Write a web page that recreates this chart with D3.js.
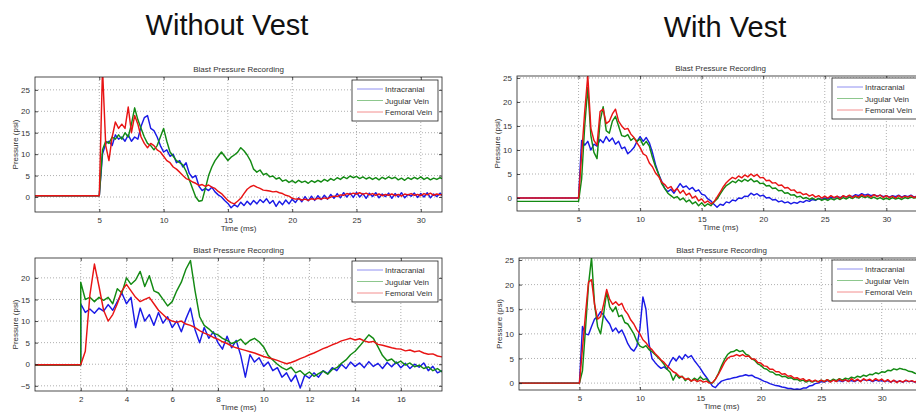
<!DOCTYPE html>
<html>
<head>
<meta charset="utf-8">
<script src="https://cdn.jsdelivr.net/npm/d3@7"></script>
<style>
body { margin: 0; background: #fff; }
svg text { font-family: "Liberation Sans", Arial, sans-serif; }
</style>
</head>
<body>
<svg id="chart" width="916" height="415"></svg>
<script>
// ---- data (pressure in psi) ----
const seriesNames = ["Intracranial", "Jugular Vein", "Femoral Vein"];
const seriesColors = ["#1a1ae6", "#138a13", "#e81414"];

// Without vest, upper: samples every 0.25 ms from 5 ms
const p1Start = 5, p1Step = 0.25, p1Base = [0.3, 0.3, 0.3];
const p1Intracranial = [
  0.3, 10, 12.5, 13, 12, 14.5, 13.5, 14, 13, 14.5,
  13, 14, 13.5, 16.5, 18.5, 19, 16, 15.5, 14, 12,
  10.5, 11, 9.5, 10, 8, 8.5, 7, 8, 5.5, 4.5,
  5, 2.5, 1.5, 2, 1.5, 2.3, 1.2, 0.5, 0, -0.8,
  -1.5, -2.5, -1.8, -2.3, -1.2, -2, -1, -1.8, -0.8, -1.6,
  -0.6, -1.3, -0.4, -1.5, -0.8, -2.2, -1, -1.8, -0.7, -1.6,
  -0.5, -1.3, -0.2, -1.1, 0.1, -0.9, 0.2, -0.8, 0.3, -0.6,
  0.4, -0.5, 0.6, -0.3, 0.8, -0.2, 1, 0, 0.9, -0.1,
  1.1, 0, 0.8, -0.3, 0.9, 0.1, 1, -0.2, 0.7, 0.1,
  0.9, -0.3, 0.8, 0, 1, -0.2, 0.6, 0.2, 0.9, -0.1,
  0.8, 0, 1, -0.2, 0.7, 0.1, 0.9, 0
];
const p1Jugular = [
  0.3, 11, 13, 12.5, 14, 13.5, 14.5, 13.5, 15, 14,
  17, 20.8, 18, 16, 14, 12.5, 12, 11, 12, 14,
  16, 13, 10.5, 9.5, 8.5, 8, 7.5, 6, 4, 2,
  0, -1, -0.8, 2, 5, 7, 8.5, 9.5, 10.5, 9.5,
  8.5, 9.3, 9.8, 10.4, 11.5, 10.8, 9.8, 8.5, 6.5, 5.8,
  6.3, 5.2, 5.5, 4.7, 4.9, 4.2, 4.5, 3.7, 4, 3.4,
  3.8, 3.3, 3.9, 3.4, 3.7, 3.2, 3.8, 3.4, 3.9, 3.5,
  4.1, 3.7, 4.3, 3.9, 4.5, 4.1, 4.7, 4.3, 4.9, 4.5,
  4.8, 4.3, 4.7, 4.2, 4.6, 4.1, 4.5, 4, 4.6, 4.2,
  4.7, 4.3, 4.6, 4, 4.4, 3.9, 4.5, 4.1, 4.6, 4.2,
  4.7, 4.1, 4.5, 4, 4.4, 4.1, 4.5, 4.2
];
const p1Femoral = [
  0.3, 30, 12, 8.5, 14, 17.5, 16, 17, 16, 21,
  15, 19, 17, 14, 12.5, 11.5, 12.5, 12, 11, 10.5,
  9.5, 8.5, 8, 7, 6.5, 5.8, 5, 4.3, 4, 3.5,
  3.2, 2.7, 2.9, 2.5, 2.8, 2.3, 2, 1.3, 0.8, 0,
  -0.8, -1.3, -1.6, -1, -0.3, 0.8, 1.8, 2.4, 2.7, 2.3,
  2, 1.6, 1.5, 1.4, 1.2, 1.3, 1, 0.8, 0.4, 0.2,
  -0.3, -0.5, -0.4, -0.7, -0.5, -0.8, -0.4, -0.6, -0.3, -0.5,
  -0.2, -0.4, 0, 0.2, 0.1, 0.5, 0.4, 0.8, 0.6, 0.9,
  0.7, 1, 0.6, 0.9, 0.5, 0.8, 0.4, 0.7, 0.3, 0.6,
  0.4, 0.7, 0.3, 0.6, 0.2, 0.7, 0.5, 0.8, 0.4, 0.6,
  0.3, 0.8, 0.5, 0.9, 0.4, 0.7, 0.5, 0.6
];

// Without vest, lower: samples every 0.2 ms from 2 ms
const p2Start = 2, p2Step = 0.2, p2Base = [-0.2, -0.2, -0.1];
const p2Intracranial = [
  14, 12, 12.8, 11.8, 13, 12.3, 13.8, 12.5, 14.5, 16.5,
  14, 15.5, 8.5, 13, 10, 11.5, 9, 12, 9.5, 11,
  8.5, 10, 7.5, 10.5, 13, 8, 5, 8.5, 6, 7.5,
  5, 3.5, 6.5, 3.8, 5.5, 2, -3, 2.2, 0.5, 1.5,
  -0.5, 0.5, -1.5, -0.8, -3, -2, -4, -2.5, -5.5, -2.5,
  -3.2, -2, -3, -1.5, -2.2, -0.8, -1.5, 0, -1, 0.5,
  -0.5, 0.3, -0.8, 0.6, -0.5, 0.2, -1, 0.4, -0.6, 0.5,
  -0.8, 0.2, -1, 0, -0.7, 0.3, -1.5, -0.5, -2, -1.5
];
const p2Jugular = [
  19, 15, 15.5, 14.5, 15.5, 14.8, 15.5, 14, 17.5, 16.5,
  20, 18.5, 19.5, 21.5, 18, 20.5, 17, 16.5, 15, 13.5,
  14.5, 17, 19, 22, 24, 17, 11, 9, 8.2, 7.2,
  6.8, 6, 5.5, 4.8, 5.2, 5.8, 4.6, 5.5, 6, 5.2,
  4, 2, 1, 0, -0.8, -1.3, -0.7, -2, -1.5, -2.5,
  -1.8, -2.8, -2.2, -1.6, -2.3, -1.2, -0.8, 0.2, 1, 2.2,
  3, 4.2, 5.5, 6.8, 6, 4, 2, 0.8, 1.2, 0.2,
  0.7, -0.2, 0.3, -0.6, -0.2, -1, -0.6, -1.5, -1, -1.8
];
const p2Femoral = [
  -0.1, 3, 16, 23.2, 18, 12.5, 10, 11.5, 14, 17,
  18.5, 17, 15.5, 14.5, 15, 15.5, 14, 12.5, 11.5, 10.5,
  10, 9.7, 10, 9.3, 9, 8.5, 7.8, 7.2, 6.8, 6.2,
  5.8, 5.2, 4.8, 4.2, 3.8, 3.5, 3.2, 2.9, 2.6, 2.2,
  1.8, 1.5, 1.2, 0.9, 0.5, 0.1, 0.4, 0.8, 1.3, 1.7,
  2.2, 2.6, 3.1, 3.6, 4, 4.5, 4.9, 5.4, 5.7, 6,
  5.6, 5.9, 5.4, 5.1, 5.3, 4.6, 4.4, 4.1, 3.8, 3.6,
  3.5, 3.1, 3.3, 2.9, 3.1, 2.6, 2.3, 2.4, 1.9, 1.7
];

// With vest, upper: samples every 0.25 ms from 5 ms
const p3Start = 5, p3Step = 0.25, p3Base = [0, -0.7, 0];
const p3Intracranial = [
  0, 12, 11, 11.8, 10, 11.2, 10.8, 12.2, 11.5, 12.8,
  11.8, 12.5, 11.2, 11.8, 10.3, 10.6, 9.2, 9.8, 10.5, 11.8,
  12.8, 11.8, 12.6, 11.5, 9.5, 7, 5, 3.5, 2, 1.3,
  1.8, 1, 2, 3, 2.2, 2.5, 1.8, 2.2, 1.4, 1.7,
  0.8, 0.6, -0.2, -0.6, -1.3, -1.9, -1.3, -1.5, -0.8, -1,
  -0.4, -0.6, 0, -0.1, 0.4, 0.3, 1, 0.6, 0.9, 0.4,
  0.6, 0, 0.1, -0.4, -0.3, -0.8, -0.6, -1, -0.8, -1.2,
  -0.9, -1.1, -0.7, -0.9, -0.5, -0.7, -0.3, -0.5, -0.1, -0.3,
  0, -0.2, 0.2, 0, 0.3, 0.1, 0.4, 0.2, 0.5, 0.3,
  0.7, 0.5, 0.9, 0.6, 0.8, 0.5, 0.7, 0.4, 0.6, 0.3,
  0.5, 0.2, 0.5, 0.3, 0.6, 0.2, 0.5, 0.3, 0.6, 0.2,
  0.4, 0.3, 0.5
];
const p3Jugular = [
  -0.7, 4, 15, 23, 13, 9.5, 8.2, 16, 19, 14,
  13.5, 16, 17, 15, 13, 12.8, 13.2, 12, 12.5, 11.8,
  12.3, 11, 11.8, 10.8, 8.5, 6.5, 5, 3, 2, 1,
  0.5, 0, 0.3, -0.4, 0, -0.8, -0.4, -1.2, -0.8, -1.6,
  -1, -1.7, -1.2, -1.6, -0.8, -0.2, 0.8, 1.8, 2.6, 3,
  3.5, 3.2, 3.8, 3.4, 3.9, 3.5, 4, 3.4, 3.6, 3,
  3.1, 2.5, 2.6, 2, 2.1, 1.5, 1.6, 1, 1.1, 0.6,
  0.7, 0.2, 0.4, -0.1, 0.1, -0.3, 0, -0.4, -0.1, -0.5,
  -0.2, -0.5, -0.1, -0.4, 0, -0.3, 0.1, -0.2, 0.2, -0.1,
  0.3, 0, 0.4, 0.1, 0.3, -0.1, 0.2, -0.2, 0.1, -0.3,
  0, -0.3, 0.1, -0.2, 0, -0.3, 0.1, -0.1, 0.2, 0,
  0.1, -0.1, 0
];
const p3Femoral = [
  0, 9, 18, 25.5, 14.5, 12, 11, 18, 18.5, 15.5,
  16, 17.5, 18.5, 16, 15, 14.3, 14.5, 13.3, 12.6, 11.5,
  10.5, 9.2, 8.8, 7.3, 6.5, 5.2, 4.5, 3.3, 2.8, 2,
  2.4, 1.4, 2, 1, 1.6, 0.6, 1, 0, 0.4, -0.6,
  -0.2, -1, -0.6, -1.2, -0.8, 0.2, 1.2, 2.3, 3.2, 3.8,
  4.3, 4, 4.6, 4.2, 4.8, 4.4, 5, 4.5, 4.9, 4.2,
  4.3, 3.6, 3.7, 3.1, 3.2, 2.6, 2.7, 2.1, 2.2, 1.6,
  1.7, 1.1, 1.2, 0.7, 0.9, 0.4, 0.7, 0.2, 0.5, 0,
  0.4, 0, 0.5, 0.1, 0.4, -0.1, 0.5, 0.2, 0.6, 0.1,
  0.5, 0.2, 0.7, 0.3, 0.6, 0.2, 0.7, 0.3, 0.6, 0.1,
  0.5, 0.1, 0.4, 0, 0.5, 0.1, 0.4, 0.2, 0.5, 0.1,
  0.4, 0.2, 0.3
];

// With vest, lower: samples every 0.25 ms from 5 ms
const p4Start = 5, p4Step = 0.25, p4Base = [0, 0, 0];
const p4Intracranial = [
  0, 11.5, 10, 9.8, 11.5, 13, 13.5, 14.5, 13.8, 12.8,
  12, 10.5, 11.2, 10.2, 10.8, 9.5, 8, 7, 6.5, 7.5,
  11, 17.5, 15, 8, 5, 4.2, 3.5, 3, 3.3, 2.8,
  4.2, 5.2, 4.5, 5.5, 4.8, 5.8, 5.2, 5.6, 4.6, 3.8,
  3, 2, 1.2, 0.3, -0.6, -0.9, -0.2, 0.4, 0.6, 0.8,
  0.9, 1.1, 1.2, 1.4, 1.5, 1.7, 1.5, 1.6, 1.2, 1,
  0.7, 0.4, 0.2, -0.1, -0.3, -0.5, -0.6, -0.8, -0.9, -1.1,
  -1.1, -1.3, -1.2, -1.3, -1, -1, -0.6, -0.5, -0.1, 0,
  0.3, 0.2, 0.5, 0.3, 0.6, 0.4, 0.5, 0.3, 0.6, 0.4,
  0.5, 0.3, 0.6, 0.4, 0.7, 0.5, 0.6, 0.3, 0.6, 0.4,
  0.5, 0.3, 0.5, 0.2, 0.5, 0.3, 0.4, 0.2, 0.5, 0.3,
  0.4, 0.2, 0.4
];
const p4Jugular = [
  0, 2.5, 11, 20, 25.5, 16, 11.5, 10, 14, 18.5,
  15.5, 14.5, 15.5, 13.5, 13.8, 12.3, 12, 11, 10, 8.5,
  7.5, 7.2, 7.6, 6.8, 6.4, 5.8, 5.2, 4.6, 3.8, 2.8,
  2.2, 0.6, 1.8, 1, 1.4, 0.5, 1, 0.4, 1, 0.6,
  1.3, 0.7, 0.9, 0.2, 0, 0.8, 2, 3.5, 4.8, 5.8,
  6.3, 6.4, 6.8, 6.4, 6.6, 5.9, 5.6, 4.9, 4.6, 3.9,
  3.6, 3, 2.8, 2.3, 2.2, 1.7, 1.7, 1.3, 1.4, 1,
  1.1, 0.7, 0.8, 0.4, 0.6, 0.2, 0.5, 0.2, 0.5, 0.3,
  0.6, 0.3, 0.7, 0.4, 0.8, 0.5, 0.9, 0.6, 1, 0.8,
  1.2, 1, 1.4, 1.2, 1.6, 1.4, 1.8, 1.7, 2.1, 1.9,
  2.3, 2.2, 2.6, 2.5, 2.9, 2.7, 3, 2.8, 2.7, 2.4,
  2.3, 2, 1.8
];
const p4Femoral = [
  0, 7, 14, 20.5, 21, 16, 13, 13.5, 16, 19,
  17, 16, 16.5, 15.8, 16.2, 14.8, 14, 12.8, 12, 10.8,
  10, 8.8, 8.2, 7.3, 6.8, 6, 5.4, 4.7, 4.2, 3.5,
  2.9, 2.3, 2, 1.4, 1.3, 0.8, 0.9, 0.4, 0.7, 0.3,
  0.6, 0.2, 0.4, 0, 0.1, 0.8, 1.8, 3, 4.2, 5,
  5.4, 5.5, 5.8, 5.5, 5.8, 5.4, 5.5, 4.9, 4.9, 4.2,
  4.1, 3.5, 3.4, 2.8, 2.8, 2.3, 2.3, 1.8, 1.9, 1.4,
  1.5, 1, 1.1, 0.7, 0.9, 0.4, 0.7, 0.3, 0.6, 0.2,
  0.6, 0.3, 0.7, 0.2, 0.6, 0.3, 0.8, 0.4, 0.7, 0.3,
  0.9, 0.4, 0.8, 0.3, 0.9, 0.5, 0.8, 0.4, 0.9, 0.5,
  0.8, 0.3, 0.7, 0.2, 0.6, 0.1, 0.5, 0.2, 0.6, 0.3,
  0.5, 0.2, 0.6
];

// tick values
const ticksTime32 = [5, 10, 15, 20, 25, 30];
const ticksTime18 = [2, 4, 6, 8, 10, 12, 14, 16];
const ticksP25 = [0, 5, 10, 15, 20, 25];
const ticksP20 = [-5, 0, 5, 10, 15, 20];

// ---- layout of the four axes ----
const panels = [
  {id: "a", left: 35, right: 442, top: 77, bottom: 212, xMax: 31.65, yDomain: [-3.5, 28],
   xTicks: ticksTime32, yTicks: ticksP25, start: p1Start, step: p1Step, base: p1Base,
   series: [p1Intracranial, p1Jugular, p1Femoral], legend: [352, 80]},
  {id: "b", left: 35, right: 442, top: 258, bottom: 391, xMax: 17.8, yDomain: [-6.2, 24.6],
   xTicks: ticksTime18, yTicks: ticksP20, start: p2Start, step: p2Step, base: p2Base,
   series: [p2Intracranial, p2Jugular, p2Femoral], legend: [352, 261]},
  {id: "c", left: 517, right: 924, top: 76, bottom: 211, xMax: 33.06, yDomain: [-2.7, 25.4],
   xTicks: ticksTime32, yTicks: ticksP25, start: p3Start, step: p3Step, base: p3Base,
   series: [p3Intracranial, p3Jugular, p3Femoral], legend: [832, 78]},
  {id: "d", left: 519, right: 924, top: 258, bottom: 390, xMax: 33.5, yDomain: [-1.4, 25.4],
   xTicks: ticksTime32, yTicks: ticksP25, start: p4Start, step: p4Step, base: p4Base,
   series: [p4Intracranial, p4Jugular, p4Femoral], legend: [832, 260]}
];

const svg = d3.select("#chart");
svg.append("rect").attr("width", 916).attr("height", 415).attr("fill", "#fff");

svg.append("text").attr("x", 227).attr("y", 35).attr("text-anchor", "middle")
  .attr("font-size", 29).attr("fill", "#111").text("Without Vest");
svg.append("text").attr("x", 725).attr("y", 37).attr("text-anchor", "middle")
  .attr("font-size", 29).attr("fill", "#111").text("With Vest");

panels.forEach(p => {
  const x = d3.scaleLinear().domain([0, p.xMax]).range([p.left, p.right]);
  const y = d3.scaleLinear().domain(p.yDomain).range([p.bottom, p.top]);
  const w = p.right - p.left, h = p.bottom - p.top;
  const g = svg.append("g");

  g.append("clipPath").attr("id", "clip-" + p.id)
    .append("rect").attr("x", p.left).attr("y", p.top).attr("width", w).attr("height", h);

  // dotted grid
  const grid = g.append("g").attr("class", "grid");
  grid.selectAll(".gx").data(p.xTicks).enter().append("line")
    .attr("x1", d => x(d)).attr("x2", d => x(d)).attr("y1", p.top).attr("y2", p.bottom);
  grid.selectAll(".gy").data(p.yTicks).enter().append("line")
    .attr("y1", d => y(d)).attr("y2", d => y(d)).attr("x1", p.left).attr("x2", p.right);
  grid.selectAll("line").attr("stroke", "#9a9a9a").attr("stroke-width", 0.8)
    .attr("stroke-dasharray", "1,2");

  // traces
  const line = d3.line().x(d => x(d[0])).y(d => y(d[1]));
  const traces = g.append("g").attr("clip-path", "url(#clip-" + p.id + ")");
  p.series.forEach((vals, k) => {
    const pts = [[0, p.base[k]], [p.start, p.base[k]]]
      .concat(vals.map((v, i) => [p.start + i * p.step, v]));
    traces.append("path").datum(pts).attr("d", line)
      .attr("fill", "none").attr("stroke", seriesColors[k])
      .attr("stroke-width", 1.45).attr("stroke-linejoin", "round");
  });

  // axes, ticks pointing inwards on all four sides
  const ax = g.append("g").attr("class", "axes");
  ax.append("g").attr("transform", `translate(0,${p.bottom})`)
    .call(d3.axisBottom(x).tickValues(p.xTicks).tickSize(-3).tickPadding(5));
  ax.append("g").attr("transform", `translate(0,${p.top})`)
    .call(d3.axisTop(x).tickValues(p.xTicks).tickSize(-3).tickFormat(""));
  ax.append("g").attr("transform", `translate(${p.left},0)`)
    .call(d3.axisLeft(y).tickValues(p.yTicks).tickSize(-3).tickPadding(5));
  ax.append("g").attr("transform", `translate(${p.right},0)`)
    .call(d3.axisRight(y).tickValues(p.yTicks).tickSize(-3).tickFormat(""));
  ax.selectAll(".domain").remove();
  ax.selectAll("line").attr("stroke", "#222").attr("stroke-width", 0.8);
  ax.selectAll("text").attr("font-size", 8).attr("fill", "#333")
    .attr("font-family", "Liberation Sans, Arial, sans-serif");
  g.append("rect").attr("x", p.left).attr("y", p.top).attr("width", w).attr("height", h)
    .attr("fill", "none").attr("stroke", "#222").attr("stroke-width", 0.8);

  // labels
  g.append("text").attr("x", (p.left + p.right) / 2).attr("y", p.top - 5)
    .attr("text-anchor", "middle").attr("font-size", 8).attr("fill", "#333")
    .text("Blast Pressure Recording");
  g.append("text").attr("x", (p.left + p.right) / 2).attr("y", p.bottom + 19)
    .attr("text-anchor", "middle").attr("font-size", 8).attr("fill", "#333")
    .text("Time (ms)");
  g.append("text")
    .attr("transform", `translate(${p.left - 17},${(p.top + p.bottom) / 2}) rotate(-90)`)
    .attr("text-anchor", "middle").attr("font-size", 8).attr("fill", "#333")
    .text("Pressure (psi)");

  // legend
  const [lx, ly] = p.legend;
  const lg = g.append("g").attr("transform", `translate(${lx},${ly})`);
  lg.append("rect").attr("width", 86).attr("height", 41)
    .attr("fill", "#fff").attr("stroke", "#222").attr("stroke-width", 0.8);
  seriesNames.forEach((name, k) => {
    const yy = 9 + k * 11.5;
    lg.append("line").attr("x1", 5).attr("x2", 31).attr("y1", yy).attr("y2", yy)
      .attr("stroke", seriesColors[k]).attr("stroke-width", 0.8).attr("opacity", 0.6);
    lg.append("text").attr("x", 33).attr("y", yy + 3).attr("font-size", 8)
      .attr("fill", "#333").text(name);
  });
});
</script>
</body>
</html>
